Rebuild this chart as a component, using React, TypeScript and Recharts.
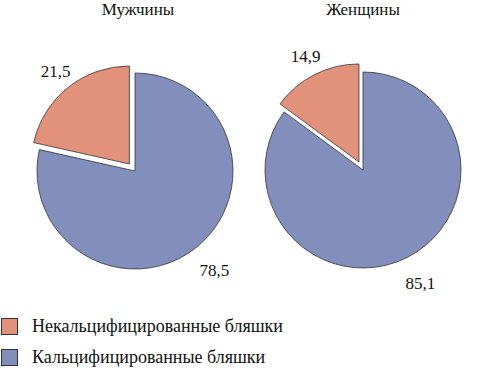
import { PieChart, Pie, Cell, Legend } from "recharts";

const categories = ["Некальцифицированные бляшки", "Кальцифицированные бляшки"];
const groups = ["Мужчины", "Женщины"];
const menValues = [21.5, 78.5];
const womenValues = [14.9, 85.1];

const colors = ["#E2917A", "#828EBB"];
const FONT = "Liberation Serif";
const RADIAN = Math.PI / 180;
const R = 98;
const EXPLODE = 9;

const makeData = (vals: number[]) =>
  vals.map((v, i) => ({ name: categories[i], value: v }));

const fmt = (v: number) => v.toFixed(1).replace(".", ",");

// label only for the slice this pie draws, measured from the unexploded centre
const makeLabel = (show: number, ox: number, oy: number) => (props: any) => {
  const { cx, cy, midAngle, outerRadius, value, index } = props;
  if (index !== show) return null;
  const r = outerRadius + 29;
  const x = cx - ox + r * Math.cos(-midAngle * RADIAN);
  const y = cy - oy + r * Math.sin(-midAngle * RADIAN);
  return (
    <text
      x={x}
      y={y}
      textAnchor="middle"
      dominantBaseline="central"
      fontFamily={FONT}
      fontSize={17}
      fill="#111"
    >
      {fmt(value)}
    </text>
  );
};

const PiePair = (vals: number[], cx: number, cy: number, key: string) => {
  const data = makeData(vals);
  const total = vals.reduce((a, b) => a + b, 0);
  const mid = 90 + ((vals[0] / total) * 360) / 2;
  const dx = EXPLODE * Math.cos(mid * RADIAN);
  const dy = -EXPLODE * Math.sin(mid * RADIAN);
  return [
    <Pie
      key={key + "b"}
      data={data}
      dataKey="value"
      cx={cx}
      cy={cy}
      outerRadius={R}
      startAngle={90}
      endAngle={450}
      isAnimationActive={false}
      labelLine={false}
      label={makeLabel(1, 0, 0)}
    >
      <Cell fill="none" stroke="none" />
      <Cell fill={colors[1]} stroke="#333" strokeWidth={0.8} />
    </Pie>,
    <Pie
      key={key + "s"}
      data={data}
      dataKey="value"
      cx={cx + dx}
      cy={cy + dy}
      outerRadius={R}
      startAngle={90}
      endAngle={450}
      isAnimationActive={false}
      labelLine={false}
      label={makeLabel(0, dx, dy)}
    >
      <Cell fill={colors[0]} stroke="#333" strokeWidth={0.8} />
      <Cell fill="none" stroke="none" />
    </Pie>,
  ];
};

const LegendBox = () => (
  <div style={{ fontFamily: FONT, fontSize: 18, color: "#111" }}>
    {categories.map((c, i) => (
      <div
        key={c}
        style={{ display: "flex", alignItems: "center", height: 31 }}
      >
        <span
          style={{
            width: 17,
            height: 17,
            background: colors[i],
            border: "0.8px solid #333",
            boxSizing: "border-box",
            marginLeft: 1,
            marginRight: 14,
          }}
        />
        {c}
      </div>
    ))}
  </div>
);

export default function App() {
  return (
    <div style={{ position: "absolute", left: 0, top: 0, background: "#fff", fontFamily: FONT }}>
      <PieChart
        width={504}
        height={368}
        margin={{ top: 0, right: 0, bottom: 0, left: 0 }}
      >
        <text x={138} y={15} textAnchor="middle" fontFamily={FONT} fontSize={17} fill="#111">
          {groups[0]}
        </text>
        <text x={363} y={15} textAnchor="middle" fontFamily={FONT} fontSize={17} fill="#111">
          {groups[1]}
        </text>
        {PiePair(menValues, 135, 171, "m")}
        {PiePair(womenValues, 363, 170, "w")}
        <Legend
          content={() => <LegendBox />}
          wrapperStyle={{ position: "absolute", left: 0, top: 311, width: 320 }}
        />
      </PieChart>
    </div>
  );
}
